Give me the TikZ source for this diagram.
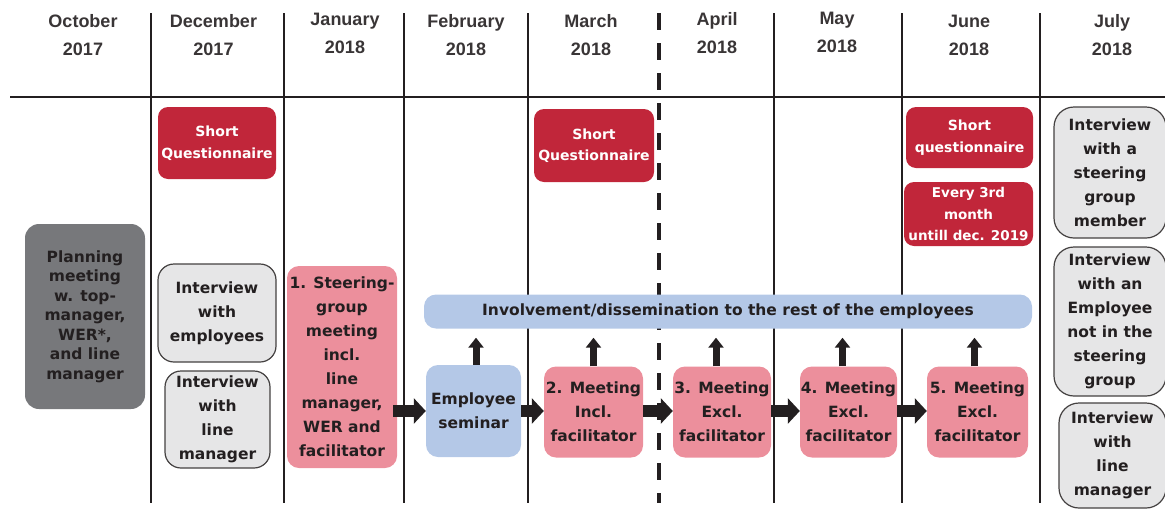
\documentclass[tikz,border=0pt]{standalone}
\usepackage{fontspec}
\setmainfont{DejaVu Sans}
\newfontfamily\hdr{Liberation Sans}
\usetikzlibrary{arrows.meta}
\definecolor{qred}{HTML}{C1263A}
\definecolor{mpink}{HTML}{EC8F9C}
\definecolor{lblue}{HTML}{B4C8E7}
\definecolor{lgray}{HTML}{E6E6E7}
\definecolor{dgray}{HTML}{77787B}
\definecolor{ink}{HTML}{231F20}
\tikzset{
  base/.style={rectangle, inner sep=0pt, align=center, text=ink,
    font=\bfseries\fontsize{15.5}{24}\selectfont},
  redbox/.style={base, fill=qred, text=white, rounded corners=10pt,
    font=\bfseries\fontsize{14}{21.5}\selectfont},
  pinkbox/.style={base, fill=mpink, rounded corners=12pt},
  bluebox/.style={base, fill=lblue, rounded corners=12pt},
  ivbox/.style={base, fill=lgray, draw=ink!85, line width=1.2pt, rounded corners=16pt},
  planbox/.style={base, fill=dgray, text=ink, rounded corners=14pt,
    font=\bfseries\fontsize{15.5}{19.5}\selectfont},
  month/.style={align=center, inner sep=0pt, text=ink!90,
    font=\hdr\bfseries\fontsize{18}{28}\selectfont},
  gridline/.style={draw=ink, line width=1.1pt},
  harrow/.style={draw=ink, line width=12pt, -{Triangle[length=12pt,width=25pt]}},
  varrow/.style={draw=ink, line width=7pt, shorten >=9pt, -{Triangle[length=10pt,width=15pt]}},
}
\begin{document}
\begin{tikzpicture}[x=1pt,y=-1pt]
\useasboundingbox (0,0) rectangle (1165,512);
% grid
\draw[gridline] (10,97) -- (1165,97);
\foreach \gx in {151,284,404,528,774,902,1040}
  \draw[gridline] (\gx,13) -- (\gx,503);
\draw[draw=ink, line width=4.5pt, dash pattern=on 17pt off 13pt] (659,13) -- (659,503);
% headers
\node[month] (hoct) at (83,35) {October\\2017};
\node[month] (hdec) at (213.5,35) {December\\2017};
\node[month] (hjan) at (345,33) {January\\2018};
\node[month] (hfeb) at (466,35) {February\\2018};
\node[month] (hmar) at (591,35) {March\\2018};
\node[month] (hapr) at (717,33) {April\\2018};
\node[month] (hmay) at (837,32) {May\\2018};
\node[month] (hjun) at (969,35) {June\\2018};
\node[month] (hjul) at (1112,35) {July\\2018};
% boxes
\node[planbox, minimum width=120pt, minimum height=185pt] (plan) at (85,316.5)
  {Planning\\meeting\\w. top-\\manager,\\WER*,\\and line\\manager};
\node[redbox, minimum width=118pt, minimum height=72pt] (sqdec) at (217,143) {Short\\Questionnaire};
\node[ivbox, minimum width=118pt, minimum height=98pt] (ivemp) at (217,313) {Interview\\with\\employees};
\node[ivbox, minimum width=105pt, minimum height=97pt] (ivlm) at (217.5,419.5) {Interview\\with\\line\\manager};
\node[pinkbox, minimum width=110pt, minimum height=202pt] (steer) at (342,367)
  {1. Steering-\\group\\meeting\\incl.\\line\\manager,\\WER and\\facilitator};
\node[bluebox, minimum width=608pt, minimum height=34pt] (bar) at (728,311.5)
  {Involvement/dissemination to the rest of the employees};
\node[bluebox, minimum width=95pt, minimum height=92pt] (sem) at (473.5,411) {Employee\\seminar};
\node[pinkbox, minimum width=99pt, minimum height=91pt] (m2) at (593.5,412) {2. Meeting\\Incl.\\facilitator};
\node[pinkbox, minimum width=98pt, minimum height=91pt] (m3) at (722,412) {3. Meeting\\Excl.\\facilitator};
\node[pinkbox, minimum width=97pt, minimum height=91pt] (m4) at (848.5,412) {4. Meeting\\Excl.\\facilitator};
\node[pinkbox, minimum width=101pt, minimum height=91pt] (m5) at (977.5,412) {5. Meeting\\Excl.\\facilitator};
\node[redbox, minimum width=120pt, minimum height=73pt] (sqmar) at (594,145.5) {Short\\Questionnaire};
\node[redbox, minimum width=127pt, minimum height=61pt] (sqjun) at (969.5,137.5) {Short\\questionnaire};
\node[redbox, minimum width=129pt, minimum height=64pt, font=\bfseries\fontsize{13.5}{21.5}\selectfont]
  (every) at (968.5,214) {Every 3rd\\month\\untill dec. 2019};
\node[ivbox, rounded corners=20pt, minimum width=112pt, minimum height=131pt] (jul1) at (1110,172.5)
  {Interview\\with a\\steering\\group\\member};
\node[ivbox, rounded corners=20pt, minimum width=112pt, minimum height=149pt] (jul2) at (1110,321.5)
  {Interview\\with an\\Employee\\not in the\\steering\\group};
\node[ivbox, rounded corners=20pt, minimum width=107pt, minimum height=105pt] (jul3) at (1112.5,455.5)
  {Interview\\with\\line\\manager};
% arrows
\draw[harrow] ([xshift=-4pt]steer.east |- sem.west) -- (sem.west);
\draw[harrow] (sem.east) -- (sem.east -| m2.west);
\draw[harrow] (m2.east |- sem.east) -- (sem.east -| m3.west);
\draw[harrow] (m3.east |- sem.east) -- (sem.east -| m4.west);
\draw[harrow] (m4.east |- sem.east) -- (sem.east -| m5.west);
\draw[varrow] ([xshift=2.5pt]sem.north) -- ([xshift=2.5pt]sem.north |- bar.south);
\draw[varrow] (m2.north) -- (m2.north |- bar.south);
\draw[varrow] ([xshift=-6pt]m3.north) -- ([xshift=-6pt]m3.north |- bar.south);
\draw[varrow] ([xshift=-6pt]m4.north) -- ([xshift=-6pt]m4.north |- bar.south);
\draw[varrow] ([xshift=-3pt]m5.north) -- ([xshift=-3pt]m5.north |- bar.south);
\end{tikzpicture}
\end{document}
